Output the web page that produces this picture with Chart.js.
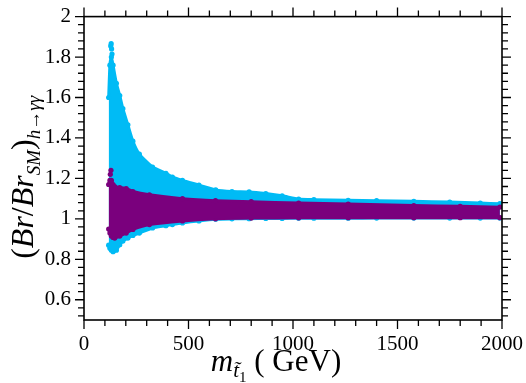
<!DOCTYPE html>
<html>
<head>
<meta charset="utf-8">
<script src="https://cdn.jsdelivr.net/npm/chart.js@4.4.0/dist/chart.umd.min.js"></script>
<style>
html,body{margin:0;padding:0;background:#fff}
#wrap{width:526px;height:383px}
</style>
</head>
<body>
<div id="wrap"><canvas id="chart"></canvas></div>
<script>
// tick labels
const xTicks = [0, 500, 1000, 1500, 2000];
const xTickLabels = ['0', '500', '1000', '1500', '2000'];
const yTicks = [0.6, 0.8, 1, 1.2, 1.4, 1.6, 1.8, 2];
const yTickLabels = ['0.6', '0.8', '1', '1.2', '1.4', '1.6', '1.8', '2'];

// cyan cloud: all points (upper / lower edge)
const cyanX     = [118, 124, 131, 139, 155, 171, 186, 210, 234, 265, 328, 392, 423, 471, 550, 630, 708, 790, 870, 948, 1027, 1100, 1264, 1400, 1578, 1750, 1896, 1990];
const cyanUpper = [1.60, 1.76, 1.80, 1.76, 1.67, 1.61, 1.545, 1.465, 1.384, 1.32, 1.256, 1.225, 1.207, 1.19, 1.167, 1.143, 1.135, 1.133, 1.125, 1.114, 1.098, 1.095, 1.092, 1.09, 1.087, 1.083, 1.078, 1.075];
const cyanLower = [0.87, 0.855, 0.845, 0.838, 0.845, 0.872, 0.89, 0.905, 0.918, 0.93, 0.955, 0.966, 0.972, 0.98, 0.99, 0.998, 1.0, 1.001, 1.002, 1.002, 1.003, 1.003, 1.003, 1.004, 1.004, 1.004, 1.004, 1.004];
const cyanDotsX = [128, 130, 132, 134];
const cyanDotsY = [1.855, 1.866, 1.84, 1.815];

// purple cloud: points passing the extra constraint
const purpleX     = [118, 124, 131, 139, 147, 171, 202, 234, 313, 471, 629, 800, 1027, 1264, 1578, 1800, 1990];
const purpleUpper = [1.17, 1.19, 1.19, 1.17, 1.16, 1.155, 1.15, 1.135, 1.119, 1.1, 1.09, 1.085, 1.078, 1.073, 1.066, 1.062, 1.058];
const purpleLower = [0.95, 0.93, 0.915, 0.908, 0.905, 0.915, 0.93, 0.948, 0.972, 0.99, 1.0, 1.004, 1.005, 1.006, 1.006, 1.006, 1.006];
const purpleDotsX = [126, 129];
const purpleDotsY = [1.22, 1.24];

const cyan = 'rgb(0,187,245)';
const purple = 'rgb(122,0,125)';
const serif = '"Liberation Serif", "Times New Roman", serif';

function pts(xs, ys) {
    return xs.map((x, i) => ({x: x, y: ys[i]}));
}

function edge(data, color, fill, order) {
    return {
        data: data,
        showLine: true,
        fill: fill,
        tension: 0.2,
        borderColor: color,
        backgroundColor: color,
        borderWidth: 3,
        pointRadius: 2.6,
        pointBackgroundColor: color,
        pointBorderWidth: 0,
        order: order
    };
}

function drawParts(ctx, parts, cx, cy) {
    let total = 0;
    parts.forEach((p) => { ctx.font = p.f; total += ctx.measureText(p.t).width; });
    let cur = cx - total / 2;
    ctx.textAlign = 'left';
    ctx.textBaseline = 'alphabetic';
    parts.forEach((p) => {
        ctx.font = p.f;
        ctx.fillText(p.t, cur, cy + (p.dy || 0));
        cur += ctx.measureText(p.t).width;
    });
}

const frame = {
    id: 'frame',
    afterDraw(chart) {
        const ctx = chart.ctx;
        const a = chart.chartArea;
        const xs = chart.scales.x;
        const ys = chart.scales.y;
        ctx.save();
        ctx.strokeStyle = '#000';
        ctx.lineWidth = 1.6;
        ctx.strokeRect(a.left, a.top, a.right - a.left, a.bottom - a.top);
        ctx.lineWidth = 1.3;
        ctx.beginPath();
        // x ticks, outward, top and bottom
        for (let k = 0; k <= 20; k++) {
            const p = xs.getPixelForValue(k * 100);
            const len = k % 5 === 0 ? 9 : 6;
            ctx.moveTo(p, a.bottom); ctx.lineTo(p, a.bottom + len);
            ctx.moveTo(p, a.top); ctx.lineTo(p, a.top - len);
        }
        // y ticks, outward, left and right
        for (let k = -2; k <= 35; k++) {
            const p = ys.getPixelForValue(0.6 + k * 0.04);
            const len = k % 5 === 0 ? 9 : 6;
            ctx.moveTo(a.left, p); ctx.lineTo(a.left - len, p);
            ctx.moveTo(a.right, p); ctx.lineTo(a.right + len, p);
        }
        ctx.stroke();

        ctx.fillStyle = '#000';
        // x title
        drawParts(ctx, [
            {t: 'm', f: 'italic 31px ' + serif},
            {t: 't\u0303', f: 'italic 21px ' + serif, dy: 6},
            {t: '1', f: '15px ' + serif, dy: 11},
            {t: ' ( GeV)', f: '31px ' + serif}
        ], (a.left + a.right) / 2 - 17, a.bottom + 51);

        // y title
        ctx.translate(33, (a.top + a.bottom) / 2 + 9);
        ctx.rotate(-Math.PI / 2);
        drawParts(ctx, [
            {t: '(', f: '32px ' + serif},
            {t: 'Br', f: 'italic 32px ' + serif},
            {t: '/', f: '32px ' + serif},
            {t: 'Br', f: 'italic 32px ' + serif},
            {t: 'SM', f: 'italic 19px ' + serif, dy: 7},
            {t: ')', f: '32px ' + serif},
            {t: 'h', f: 'italic 19px ' + serif, dy: 7},
            {t: '\u2192', f: '19px ' + serif, dy: 7},
            {t: '\u03b3\u03b3', f: 'italic 19px ' + serif, dy: 7}
        ], 0, 0);
        ctx.restore();
    }
};

const config = {
    type: 'scatter',
    data: {
        datasets: [
            edge(pts(cyanX, cyanUpper), cyan, '+1', 2),
            edge(pts(cyanX, cyanLower), cyan, false, 2),
            {data: pts(cyanDotsX, cyanDotsY), pointRadius: 2.6, pointBorderWidth: 0, backgroundColor: cyan, order: 2},
            edge(pts(purpleX, purpleUpper), purple, '+1', 1),
            edge(pts(purpleX, purpleLower), purple, false, 1),
            {data: pts(purpleDotsX, purpleDotsY), pointRadius: 2.6, pointBorderWidth: 0, backgroundColor: purple, order: 1}
        ]
    },
    options: {
        responsive: true,
        maintainAspectRatio: false,
        animation: false,
        layout: {padding: {left: 0, right: 20, top: 9, bottom: 0}},
        plugins: {legend: {display: false}, tooltip: {enabled: false}},
        scales: {
            x: {
                type: 'linear',
                min: 0,
                max: 2000,
                afterBuildTicks: (s) => { s.ticks = xTicks.map((v) => ({value: v})); },
                afterFit: (s) => { s.height = 63; },
                ticks: {
                    color: '#000',
                    font: {family: serif, size: 21},
                    padding: 3,
                    maxRotation: 0,
                    autoSkip: false,
                    callback: (v, i) => xTickLabels[i]
                },
                grid: {drawOnChartArea: false, color: 'rgba(0,0,0,0)', tickLength: 9},
                border: {display: false}
            },
            y: {
                type: 'linear',
                min: 0.5,
                max: 2,
                afterBuildTicks: (s) => { s.ticks = yTicks.map((v) => ({value: v})); },
                afterFit: (s) => { s.width = 84; },
                ticks: {
                    color: '#000',
                    font: {family: serif, size: 21},
                    padding: 4,
                    autoSkip: false,
                    callback: (v, i) => yTickLabels[i]
                },
                grid: {drawOnChartArea: false, color: 'rgba(0,0,0,0)', tickLength: 9},
                border: {display: false}
            }
        }
    },
    plugins: [frame]
};

const chart = new Chart(document.getElementById('chart'), config);
</script>
</body>
</html>
